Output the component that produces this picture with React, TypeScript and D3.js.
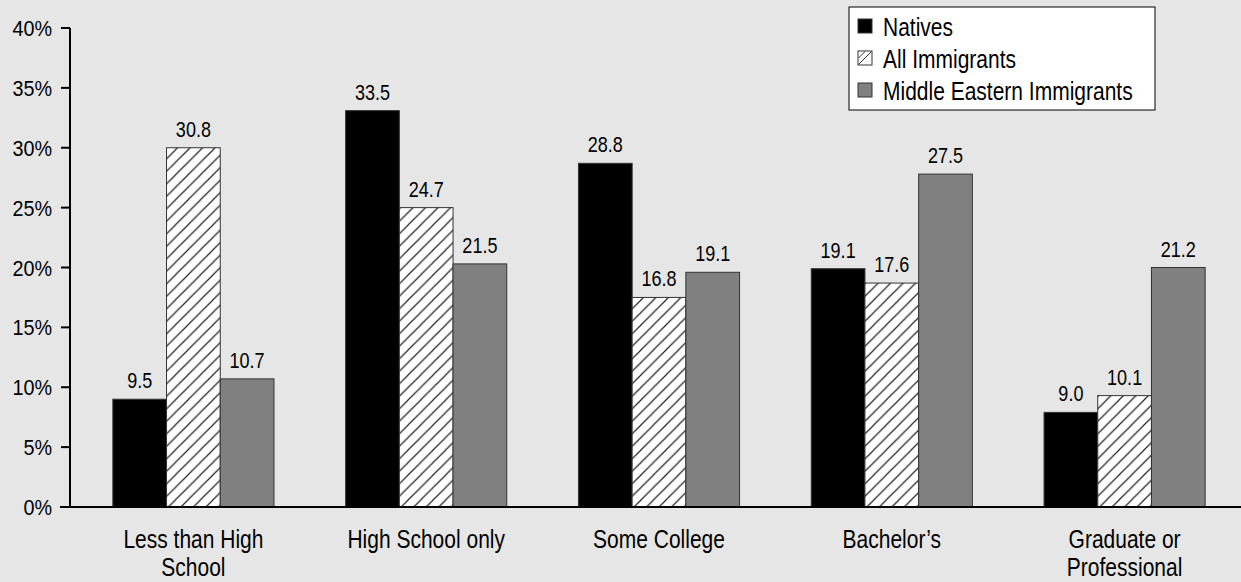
import React from "react";
import * as d3 from "d3";

const categories = ["Less than High School", "High School only", "Some College", "Bachelor’s", "Graduate or Professional"];
const categoryLines = [["Less than High", "School"], ["High School only"], ["Some College"], ["Bachelor’s"], ["Graduate or", "Professional"]];
const seriesNames = ["Natives", "All Immigrants", "Middle Eastern Immigrants"];
const natives = [9.0, 33.1, 28.7, 19.9, 7.9];
const allImmigrants = [30.0, 25.0, 17.5, 18.7, 9.3];
const middleEastern = [10.7, 20.3, 19.6, 27.8, 20.0];
const nativesLabels = ["9.5", "33.5", "28.8", "19.1", "9.0"];
const allImmigrantsLabels = ["30.8", "24.7", "16.8", "17.6", "10.1"];
const middleEasternLabels = ["10.7", "21.5", "19.1", "27.5", "21.2"];
const yTicks = [0, 5, 10, 15, 20, 25, 30, 35, 40];

const W = 1241;
const H = 582;
const FONT = "'Liberation Sans Narrow', 'Arial Narrow', 'Liberation Sans', Arial, sans-serif";

function NText(props: { x: number; y: number; size: number; sx: number; anchor?: string; children: React.ReactNode }) {
  const { x, y, size, sx, anchor, children } = props;
  return (
    <text transform={`translate(${x},${y}) scale(${sx},1)`} fontSize={size} textAnchor={anchor || "start"} fill="#000">
      {children}
    </text>
  );
}

export default function App() {
  const y = d3.scaleLinear().domain([0, 40]).range([507, 28]);
  const x0 = d3.scaleBand<string>().domain(categories).range([77, 1241]).paddingInner(0.308).paddingOuter(0.154);
  const x1 = d3.scaleBand<string>().domain(seriesNames).range([0, x0.bandwidth()]).padding(0);

  const seriesValues = [natives, allImmigrants, middleEastern];
  const seriesLabels = [nativesLabels, allImmigrantsLabels, middleEasternLabels];
  const fills = ["#000000", "url(#hatch)", "#808080"];
  const P = 12.5;

  return (
    <svg width={W} height={H} style={{ position: "absolute", left: 0, top: 0, background: "#e6e6e6" }} fontFamily={FONT}>
      <defs>
        <pattern id="hatch" patternUnits="userSpaceOnUse" width={P} height={P}>
          <rect width={P} height={P} fill="#fff" />
          <path d={`M0,${P} L${P},0 M-4,4 L4,-4 M${P - 4},${P + 4} L${P + 4},${P - 4}`} stroke="#222" strokeWidth={1.2} />
        </pattern>
      </defs>
      <rect width={W} height={H} fill="#e6e6e6" />

      {/* bars */}
      {categories.map((c, i) => (
        <g key={c} transform={`translate(${x0(c)},0)`}>
          {seriesNames.map((s, j) => {
            const v = seriesValues[j][i];
            const bx = x1(s)!;
            return (
              <g key={s}>
                <rect x={bx} y={y(v)} width={x1.bandwidth()} height={y(0) - y(v)} fill={fills[j]} stroke="#333" strokeWidth={1} />
                <NText x={bx + x1.bandwidth() / 2} y={y(v) - 11} size={22} sx={0.82} anchor="middle">
                  {seriesLabels[j][i]}
                </NText>
              </g>
            );
          })}
        </g>
      ))}

      {/* y axis */}
      <line x1={70} x2={70} y1={y(40)} y2={y(0)} stroke="#000" strokeWidth={2} />
      {yTicks.map((t) => (
        <g key={t}>
          <line x1={61} x2={70} y1={y(t)} y2={y(t)} stroke="#000" strokeWidth={2} />
          <NText x={52} y={y(t) + 8} size={22} sx={0.9} anchor="end">
            {t}%
          </NText>
        </g>
      ))}
      {/* baseline */}
      <line x1={60} x2={W} y1={y(0)} y2={y(0)} stroke="#000" strokeWidth={2} />

      {/* category labels */}
      {categories.map((c, i) =>
        categoryLines[i].map((ln, k) => (
          <NText key={c + k} x={x0(c)! + x0.bandwidth() / 2} y={548 + k * 28} size={25} sx={0.84} anchor="middle">
            {ln}
          </NText>
        ))
      )}

      {/* legend */}
      <g>
        <rect x={849} y={7} width={306} height={103} fill="#fff" stroke="#000" strokeWidth={1} />
        {seriesNames.map((s, j) => (
          <g key={s} transform={`translate(858,${19 + j * 32})`}>
            {j === 1 ? (
              <g>
                <rect x={0} y={0} width={14} height={14} fill="#fff" stroke="#333" strokeWidth={1} />
                <path d="M0.5,13.5 L13.5,0.5 M0.5,7 L7,0.5" stroke="#333" strokeWidth={1} />
              </g>
            ) : (
              <rect x={0} y={0} width={14} height={14} fill={fills[j]} stroke="#333" strokeWidth={1} />
            )}
            <NText x={25} y={17} size={25} sx={0.84}>
              {s}
            </NText>
          </g>
        ))}
      </g>
    </svg>
  );
}
